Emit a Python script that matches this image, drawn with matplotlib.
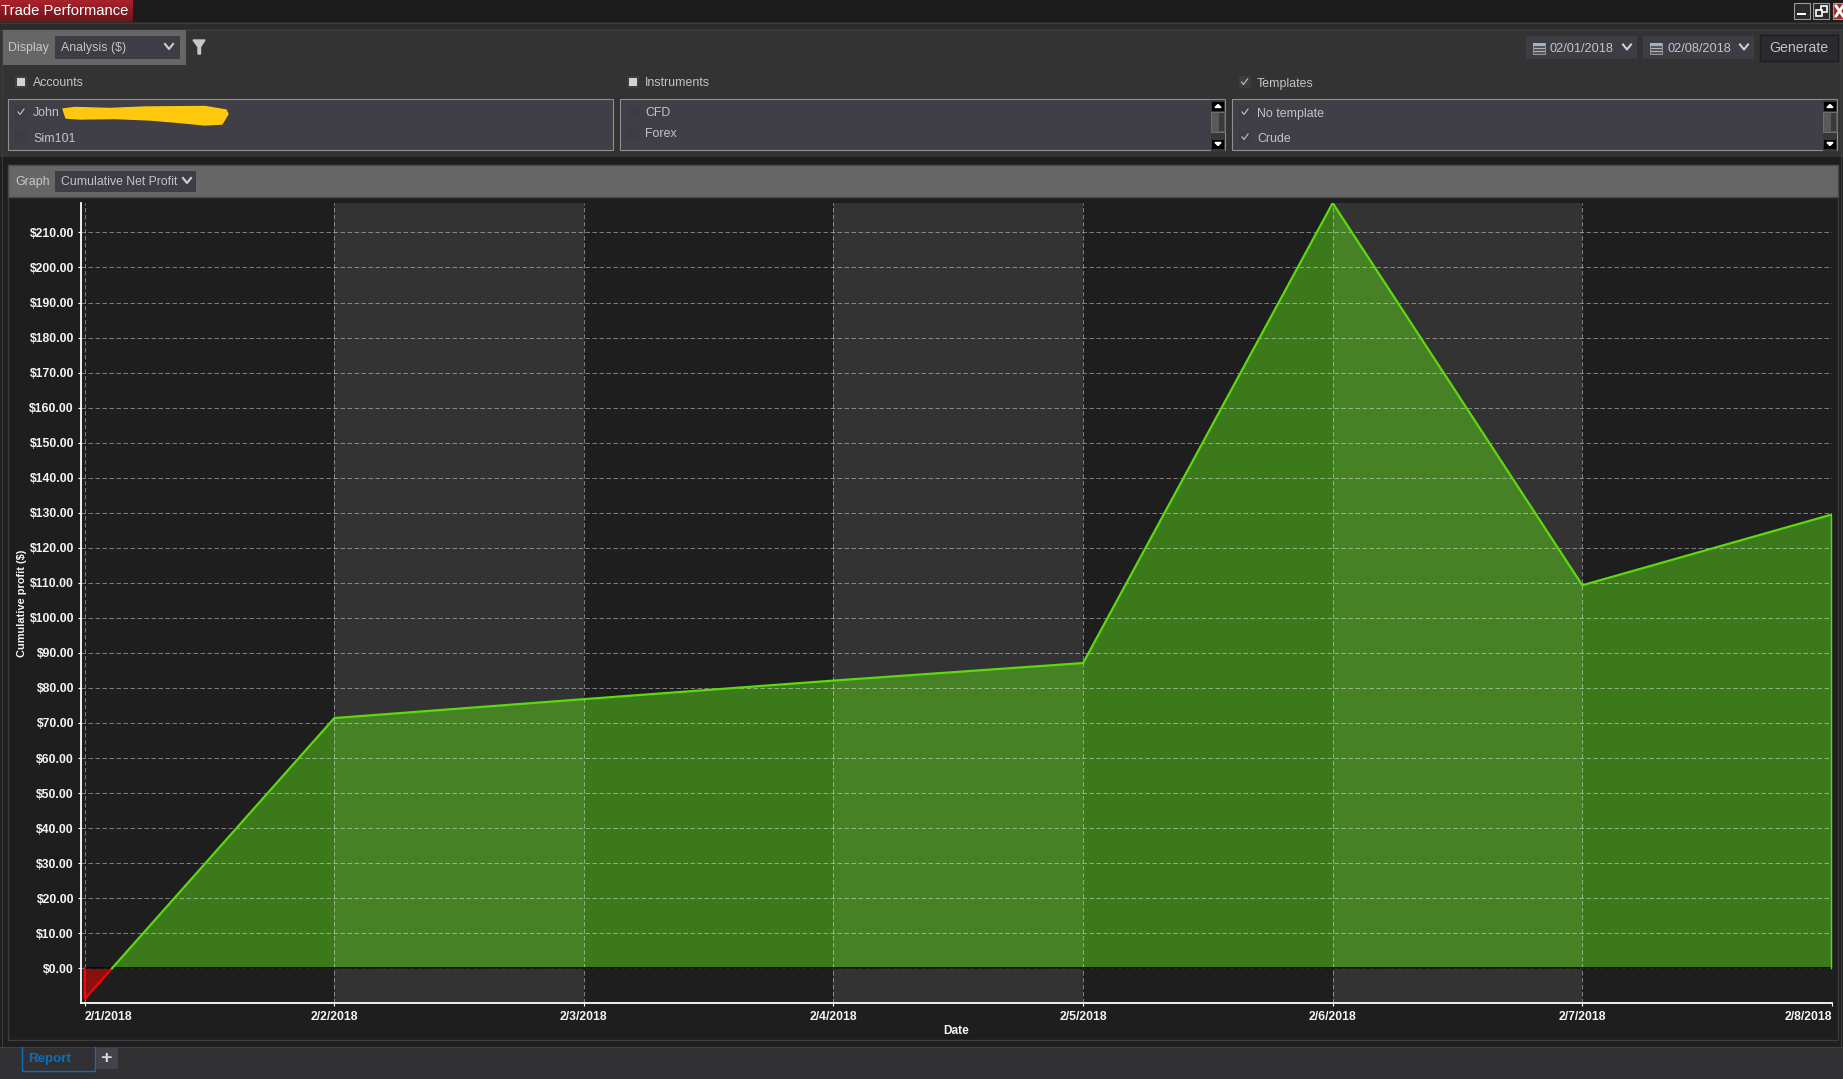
import matplotlib

matplotlib.use("Agg")
import matplotlib.pyplot as plt
import numpy as np
from matplotlib.patches import Polygon, Rectangle

plt.rcParams["font.family"] = ["Liberation Sans", "DejaVu Sans"]

W = 1843
H = 1079

# values
dates = ["2/1/2018", "2/2/2018", "2/3/2018", "2/4/2018", "2/5/2018", "2/6/2018", "2/7/2018", "2/8/2018"]
cumulative_profit = [-8.8, 71.4, 76.8, 82.1, 87.1, 218.4, 109.3, 129.5]
shaded_days = [1, 3, 5]
profit_ticks = list(range(0, 220, 10))

account_names = ["John", "Sim101"]
instrument_names = ["CFD", "Forex"]
template_names = ["No template", "Crude"]

TEXT = "#c4c4c4"
COMBO = "#3e3d45"
LIST_BG = "#403f47"
DARK = "#1e1e1e"
PANEL = "#333333"
GREEN = "#5cd90f"
GREEN_FILL = "#56c51a"
RED = "#ff0000"

fig = plt.figure(figsize=(W / 100, H / 100), dpi=100, facecolor=DARK)

# whole window in pixel coordinates, the chart axes goes on top of it
ui = fig.add_axes([0, 0, 1, 1], zorder=0)
ui.set_xlim(0, W)
ui.set_ylim(H, 0)
ui.axis("off")


def box(x0, y0, x1, y1, color, edge="none", lw=0.0, z=1):
    ui.add_patch(Rectangle((x0, y0), x1 - x0, y1 - y0, facecolor=color, edgecolor=edge, linewidth=lw, zorder=z))


def label(x, y, s, color=TEXT, size=8.9, ha="left", weight="normal"):
    ui.text(x, y + 1, s, color=color, fontsize=size, ha=ha, va="center", fontweight=weight, zorder=5)


def chevron(x, y):
    ui.plot([x - 4, x, x + 4], [y - 2.5, y + 2.5, y - 2.5], color="#d0d0d0", lw=1.5, zorder=5)


def tick_mark(x, y):
    box(x - 6, y - 6, x + 6, y + 6, "#3d3c44", z=3)
    ui.plot([x - 3, x - 1, x + 3], [y, y + 2.5, y - 3], color="#b8b8b8", lw=0.9, zorder=5)


def empty_check(x, y):
    box(x - 6, y - 6, x + 6, y + 6, "#3d3c44", z=3)


def scrollbar(x0, x1, y0, y1):
    box(x0, y0, x1, y1, "#35353a", z=3)
    box(x0 + 1, y0 + 2, x1 - 1, y0 + 11, "black", z=3)
    box(x0 + 1, y1 - 11, x1 - 1, y1 - 2, "black", z=3)
    xc = (x0 + x1) / 2
    ui.add_patch(Polygon([(xc - 3, y0 + 8), (xc + 3, y0 + 8), (xc, y0 + 5)], color="white", zorder=4))
    ui.add_patch(Polygon([(xc - 3, y1 - 8), (xc + 3, y1 - 8), (xc, y1 - 5)], color="white", zorder=4))
    box(x0, y0 + 12, x1, y0 + 32, "#5a5a5a", edge="#707070", lw=0.7, z=3)
    box(x0 + 8, y0 + 13, x1 - 1, y0 + 31, "#3a3a3a", z=3)


def calendar(x, y):
    box(x, y, x + 12, y + 11, "#55555a", edge="#9a9a9a", lw=0.7, z=4)
    box(x, y, x + 12, y + 2.5, "#9fb4c4", z=4)
    for yy in (y + 5, y + 7.5):
        ui.plot([x + 1, x + 11], [yy, yy], color="#c8c8c8", lw=0.6, zorder=5)


# title bar
box(0, 0, W, 22, "#1c1c1c")
for row in range(22):
    # tab goes from a lighter red at the top to a darker one below
    shade = row / 21
    tab_color = (0.66 - 0.24 * shade, 0.13 - 0.05 * shade, 0.17 - 0.07 * shade)
    box(0, row, 133, row + 1, tab_color, z=2)
box(0, 22, W, 29, "#2b2b2b")
ui.plot([0, W], [22.5, 22.5], color="#3c3c3c", lw=0.8, zorder=2)
ui.plot([0, W], [29.5, 29.5], color="#3f3f3f", lw=0.8, zorder=2)
label(1, 10, "Trade Performance", color="white", size=10.6)

# window buttons
box(1794, 3, 1810, 19, "#2a2a2a", edge="#9a9a9a", lw=0.8, z=2)
box(1797, 13, 1806, 15, "white", z=3)
box(1813, 3, 1829, 19, "#2a2a2a", edge="#9a9a9a", lw=0.8, z=2)
box(1821, 6, 1827, 12, "none", edge="white", lw=1.2, z=3)
box(1816, 10, 1822, 16, "#2a2a2a", edge="white", lw=1.2, z=4)
box(1833, 3, 1843, 19, "#a52a2a", edge="#9a9a9a", lw=0.8, z=2)
ui.plot([1836, 1843], [6, 16], color="white", lw=2, zorder=3)
ui.plot([1836, 1843], [16, 6], color="white", lw=2, zorder=3)

# controls area
box(0, 29, W, 157, PANEL)
box(2, 30, 186, 65, "#666666", z=2)
label(8, 47.5, "Display", color="#c8c8c8")
box(55, 36, 180, 59, COMBO, z=3)
label(61, 47.5, "Analysis ($)")
chevron(169, 46.5)
ui.add_patch(Polygon([(193, 40), (205, 40), (200.5, 47), (200.5, 54), (198, 54), (198, 47)], color="#c8c8c8", zorder=3))

box(1526, 36, 1637, 59, COMBO, z=3)
box(1643, 36, 1754, 59, COMBO, z=3)
calendar(1533, 43)
calendar(1650, 43)
label(1550, 47.5, "02/01/2018", size=9.2)
label(1667, 47.5, "02/08/2018", size=9.2)
chevron(1627, 47)
chevron(1744, 47)
box(1760, 34.5, 1837.5, 60.5, "#2b2b2f", edge="#1e1e1e", lw=1, z=3)
label(1799, 47.5, "Generate", ha="center", size=10.2)

box(15, 76, 27, 88, COMBO, z=2)
box(17, 78, 25, 86, "#d2d2d2", z=3)
label(33, 82.5, "Accounts")
box(627, 76, 639, 88, COMBO, z=2)
box(629, 78, 637, 86, "#d2d2d2", z=3)
label(645, 82.5, "Instruments")
tick_mark(1244.5, 82)
label(1257, 82.5, "Templates")

box(8, 99, 613, 150, LIST_BG, edge="#8f8f8f", lw=0.8, z=2)
box(620, 99, 1225, 150, LIST_BG, edge="#8f8f8f", lw=0.8, z=2)
box(1232, 99, 1837, 150, LIST_BG, edge="#8f8f8f", lw=0.8, z=2)
scrollbar(1211, 1225, 99.5, 150.5)
scrollbar(1823, 1837, 99.5, 150.5)

tick_mark(21, 112)
empty_check(21, 137)
label(33, 112.5, account_names[0])
label(33, 137.5, account_names[1])
# the yellow smear over the account name
ui.add_patch(Polygon(
    [(63, 109), (75, 107.5), (110, 108.5), (145, 107), (205, 106.5), (226, 110), (228, 114), (222, 124), (205, 125),
     (180, 122.5), (150, 120), (115, 118.5), (80, 119), (66, 118)],
    color="#ffc90e", zorder=6, joinstyle="round",
))
empty_check(633, 112)
empty_check(633, 133)
label(645, 112.5, instrument_names[0])
label(645, 133, instrument_names[1])
tick_mark(1245, 112)
tick_mark(1245, 137)
label(1257, 112.5, template_names[0])
label(1257, 137.5, template_names[1])

# lower part of the window
box(0, 157, W, 1047, DARK)
box(8, 164.5, 1837.5, 1040, DARK, edge="#3c3c3c", lw=1, z=2)
box(8, 164.5, 1837.5, 197, "#666666", edge="#4a4a4a", lw=1, z=3)
label(15.5, 181, "Graph", color="#c8c8c8")
box(55, 171, 196, 192, COMBO, z=4)
label(61, 181, "Cumulative Net Profit", size=8.8)
chevron(187, 180.5)
ui.plot([2, 2], [29, 1047], color="#3c3c3c", lw=0.8, zorder=3)
ui.plot([1840.5, 1840.5], [29, 1047], color="#3c3c3c", lw=0.8, zorder=3)

box(0, 1047, W, H, "#313134")
ui.plot([0, W], [1047, 1047], color="#3f3f3f", lw=0.8, zorder=2)
ui.plot([21.5, 21.5, 94.5, 94.5], [1047, 1071, 1071, 1047], color="#0e6eb8", lw=1, zorder=3)
label(28, 1058, "Report", color="#0e6eb8", size=9.6, weight="bold")
box(96, 1048, 118, 1069, "#43424a", z=3)
label(106, 1057, "+", color="#d8d8d8", size=14, ha="center", weight="bold")

# the chart
left, right, top, bottom = 80.5, 1832.3, 203.0, 1003.3
ax = fig.add_axes([left / W, 1 - bottom / H, (right - left) / W, (bottom - top) / H], zorder=2, facecolor=DARK)

x = np.arange(len(dates))
y = np.array(cumulative_profit)
ax.set_xlim(-0.0168, 7.0016)
ax.set_ylim(-10, 218.4)

for day in shaded_days:
    ax.axvspan(day, day + 1, color=PANEL, lw=0, zorder=0)

ax.fill_between(x, y, 0, where=y >= 0, interpolate=True, color=GREEN_FILL, alpha=0.55, lw=0, zorder=1)
ax.fill_between(x, y, 0, where=y <= 0, interpolate=True, color="#e40404", alpha=0.55, lw=0, zorder=1)

# where the first segment goes through zero, the line changes colour there
cross = np.interp(0, y[:2], x[:2])
ax.plot([x[0], x[0], cross], [0, y[0], 0], color=RED, lw=1.6, zorder=3, solid_joinstyle="miter")
ax.plot(np.r_[cross, x[1:], x[-1]], np.r_[0, y[1:], 0], color=GREEN, lw=1.6, zorder=3, solid_joinstyle="miter")
ax.plot([x[0], x[-1]], [0, 0], color="black", lw=1.1, zorder=2.8)

ax.set_axisbelow(False)
ax.grid(True, color="white", alpha=0.42, lw=0.72, linestyle=(0, (4.5, 2.5)))

ax.set_yticks(profit_ticks)
ax.set_yticklabels(["$%d.00" % v for v in profit_ticks])
ax.set_xticks(x)
ax.set_xticklabels(dates)
ax.tick_params(axis="y", length=2.5, width=0.8, color="white", labelcolor="#f4f4f4", labelsize=8.8, pad=2.2)
ax.tick_params(axis="x", length=2.5, width=0.8, color="white", labelcolor="#f4f4f4", labelsize=8.8, pad=3)
for t in ax.get_yticklabels() + ax.get_xticklabels():
    t.set_fontweight("bold")
ax.get_xticklabels()[0].set_ha("left")
ax.get_xticklabels()[-1].set_ha("right")

ax.spines["top"].set_visible(False)
ax.spines["right"].set_visible(False)
for side in ("left", "bottom"):
    ax.spines[side].set_color("white")
    ax.spines[side].set_linewidth(1.3)

ax.set_xlabel("Date", color="#f4f4f4", fontsize=8.6, fontweight="bold", labelpad=1.5)
ax.set_ylabel("Cumulative profit ($)", color="#f4f4f4", fontsize=7.9, fontweight="bold", labelpad=1.5)

fig.savefig("out.png", dpi=100, facecolor=fig.get_facecolor())
